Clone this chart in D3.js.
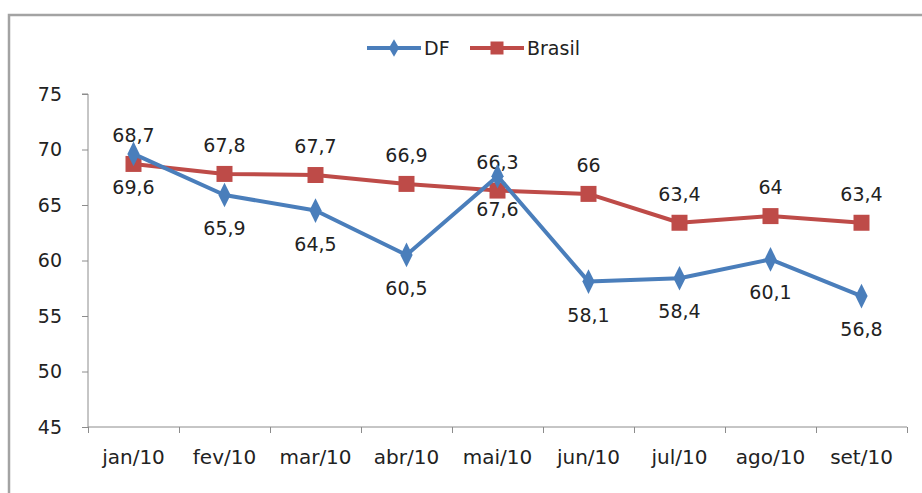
<!DOCTYPE html>
<html>
<head>
<meta charset="utf-8">
<script src="https://cdn.jsdelivr.net/npm/d3@7"></script>
<style>
    body { margin: 0; background: #fff; }
    svg text { font-family: "DejaVu Sans", Verdana, sans-serif; }
    .axis path, .axis line { stroke: #8c8c8c; }
    .axis text { fill: #222; font-size: 19px; }
    .xlab text { font-size: 20px; }
</style>
</head>
<body>
<svg id="chart" width="922" height="493"></svg>
<script>
// chart data
const months = ["jan/10", "fev/10", "mar/10", "abr/10", "mai/10", "jun/10", "jul/10", "ago/10", "set/10"];
const dfValues = [69.6, 65.9, 64.5, 60.5, 67.6, 58.1, 58.4, 60.1, 56.8];
const brasilValues = [68.7, 67.8, 67.7, 66.9, 66.3, 66, 63.4, 64, 63.4];
const yTicks = [45, 50, 55, 60, 65, 70, 75];

const blue = "#4a7ebb", red = "#be4b48";
let svg = d3.select("#chart");

// outer frame
svg.append("rect").attr("x", 9).attr("y", 15).attr("width", 960).attr("height", 520)
    .attr("fill", "none").attr("stroke", "#a3a3a3").attr("stroke-width", 2.5);

let x = d3.scaleBand().domain(months).range([88, 907]);
let xEdge = d3.scaleLinear().domain([0, months.length]).range([88, 907]);
let y = d3.scaleLinear().domain([45, 75]).range([427, 94]);

// y axis
svg.append("g").attr("class", "axis").attr("transform", "translate(88,0)")
    .call(d3.axisLeft(y).tickValues(yTicks).tickSize(6).tickPadding(20).tickFormat(d3.format("d")))
    .call(g => g.select(".domain").attr("d", "M-6," + y(75) + "H0V" + y(45)));

// x axis: tick marks at category edges, labels in the middle
svg.append("g").attr("class", "axis").attr("transform", "translate(0,427)")
    .call(d3.axisBottom(xEdge).tickValues(d3.range(months.length + 1)).tickSize(6).tickFormat(""))
    .call(g => g.select(".domain").attr("d", "M88,0H907"));
svg.append("g").attr("class", "axis xlab").attr("transform", "translate(0,427)")
    .call(d3.axisBottom(x).tickSize(0).tickPadding(23))
    .call(g => g.select(".domain").remove());

let cx = d => x(d) + x.bandwidth() / 2;

function drawSeries(values, color, symbol, size, labelDy) {
    let g = svg.append("g");
    let line = d3.line().x((d, i) => cx(months[i])).y(d => y(d));
    g.append("path").datum(values).attr("d", line)
        .attr("fill", "none").attr("stroke", color).attr("stroke-width", 4).attr("stroke-linejoin", "round");
    g.selectAll("path.mark").data(values).enter().append("path").attr("class", "mark")
        .attr("d", d3.symbol().type(symbol).size(size))
        .attr("transform", (d, i) => "translate(" + cx(months[i]) + "," + y(d) + ")" + (symbol === d3.symbolSquare ? "" : " scale(0.9,1.05)"))
        .attr("fill", color);
    g.selectAll("text").data(values).enter().append("text")
        .attr("x", (d, i) => cx(months[i])).attr("y", d => y(d) + labelDy)
        .attr("text-anchor", "middle").attr("dominant-baseline", "central")
        .attr("font-size", 19).attr("fill", "#222")
        .text(d => String(d).replace(".", ","));
}

drawSeries(brasilValues, red, d3.symbolSquare, 256, -29);
drawSeries(dfValues, blue, d3.symbolDiamond, 160, 33);

// legend
let legend = svg.append("g").attr("transform", "translate(0,48)");
let items = [{name: "DF", color: blue, sym: d3.symbolDiamond, size: 90, x0: 367}, {name: "Brasil", color: red, sym: d3.symbolSquare, size: 169, x0: 470}];
items.forEach(it => {
    legend.append("line").attr("x1", it.x0).attr("x2", it.x0 + 54).attr("stroke", it.color).attr("stroke-width", 4);
    legend.append("path").attr("d", d3.symbol().type(it.sym).size(it.size)())
        .attr("transform", "translate(" + (it.x0 + 27) + ",0)").attr("fill", it.color);
    legend.append("text").attr("x", it.x0 + 57).attr("dominant-baseline", "central")
        .attr("font-size", 19).attr("fill", "#222").text(it.name);
});
</script>
</body>
</html>
